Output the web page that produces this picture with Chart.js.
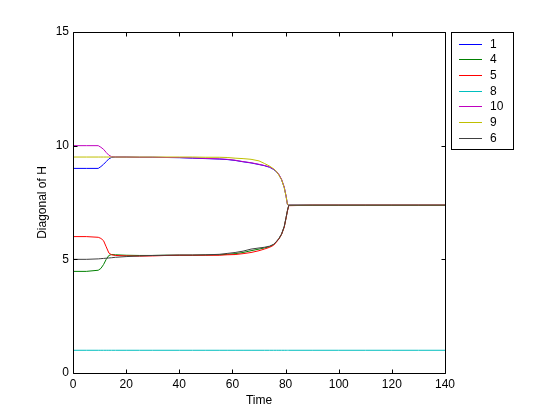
<!DOCTYPE html>
<html>
<head>
<meta charset="utf-8">
<script src="https://cdn.jsdelivr.net/npm/chart.js@4"></script>
<style>
html,body{margin:0;padding:0;background:#fff;}
#wrap{width:560px;height:420px;}
</style>
</head>
<body>
<div id="wrap"><canvas id="c" width="560" height="420"></canvas></div>
<script>
// ---- data ----
const seriesLabels = ['1', '4', '5', '8', '10', '9', '6'];
const time = [0, 5, 9.5, 10.5, 11.5, 12.5, 13.5, 14.5, 16, 20,
  25, 30, 35, 40, 45, 50, 55, 58, 61, 64,
  67, 70, 72, 74, 75.5, 76.5, 77.5, 78.5, 79.5, 80.2,
  80.7, 81.2, 90, 100, 110, 120, 130, 140];
const h1 = [9, 9, 9.0, 9.08, 9.18, 9.3, 9.42, 9.48, 9.5, 9.5,
  9.49, 9.49, 9.48, 9.47, 9.45, 9.43, 9.41, 9.39, 9.35, 9.29,
  9.24, 9.17, 9.12, 9.05, 8.95, 8.86, 8.72, 8.5, 8.16, 7.77,
  7.41, 7.38, 7.38, 7.38, 7.38, 7.38, 7.38, 7.38];
const h4 = [4.47, 4.47, 4.52, 4.6, 4.77, 5.0, 5.17, 5.21, 5.2, 5.18,
  5.17, 5.17, 5.18, 5.18, 5.18, 5.19, 5.2, 5.22, 5.25, 5.3,
  5.38, 5.45, 5.5, 5.56, 5.65, 5.77, 5.9, 6.1, 6.43, 6.83,
  7.14, 7.37, 7.38, 7.38, 7.38, 7.38, 7.38, 7.38];
const h5 = [6.0, 6.0, 5.97, 5.92, 5.82, 5.55, 5.28, 5.2, 5.17, 5.15,
  5.14, 5.15, 5.17, 5.18, 5.18, 5.18, 5.18, 5.2, 5.21, 5.25,
  5.3, 5.38, 5.45, 5.53, 5.62, 5.75, 5.9, 6.1, 6.42, 6.82,
  7.12, 7.36, 7.38, 7.38, 7.38, 7.38, 7.38, 7.38];
const h8 = [1, 1, 1, 1, 1, 1, 1, 1, 1, 1,
  1, 1, 1, 1, 1, 1, 1, 1, 1, 1,
  1, 1, 1, 1, 1, 1, 1, 1, 1, 1,
  1, 1, 1, 1, 1, 1, 1, 1];
const h10 = [10, 10, 10, 9.93, 9.84, 9.7, 9.58, 9.52, 9.5, 9.5,
  9.49, 9.49, 9.48, 9.48, 9.46, 9.44, 9.42, 9.4, 9.36, 9.3,
  9.25, 9.18, 9.13, 9.06, 8.97, 8.88, 8.73, 8.52, 8.18, 7.78,
  7.42, 7.38, 7.38, 7.38, 7.38, 7.38, 7.38, 7.38];
const h9 = [9.5, 9.5, 9.5, 9.5, 9.5, 9.5, 9.5, 9.5, 9.5, 9.5,
  9.5, 9.5, 9.5, 9.5, 9.5, 9.49, 9.49, 9.48, 9.45, 9.43,
  9.4, 9.33, 9.22, 9.1, 8.98, 8.87, 8.7, 8.5, 8.15, 7.76,
  7.42, 7.38, 7.38, 7.38, 7.38, 7.38, 7.38, 7.38];
const h6 = [5.0, 5.0, 5.02, 5.03, 5.04, 5.05, 5.06, 5.07, 5.09, 5.12,
  5.15, 5.17, 5.18, 5.19, 5.19, 5.2, 5.22, 5.26, 5.3, 5.36,
  5.45, 5.5, 5.53, 5.58, 5.66, 5.78, 5.92, 6.12, 6.45, 6.85,
  7.15, 7.38, 7.38, 7.38, 7.38, 7.38, 7.38, 7.38];
const seriesValues = [h1, h4, h5, h8, h10, h9, h6];
const xTicks = [0, 20, 40, 60, 80, 100, 120, 140];
const yTicks = [0, 5, 10, 15];

// ---- styles ----
const seriesColors = ['#0000ff', '#008000', '#ff0000', '#00bfbf', '#bf00bf', '#bfbf00', '#404040'];
const FONT = "'Liberation Sans', Arial, sans-serif";

const datasets = seriesLabels.map((lab, i) => ({
  label: lab,
  data: time.map((t, k) => ({x: t, y: seriesValues[i][k]})),
  borderColor: seriesColors[i],
  backgroundColor: seriesColors[i],
  borderWidth: 1,
  pointRadius: 0,
  tension: 0,
  fill: false,
  order: seriesLabels.length - 1 - i
}));

const matlabAxes = {
  id: 'matlabAxes',
  afterDatasetsDraw(chart) {
    const {ctx, chartArea: a, scales} = chart;
    ctx.save();
    ctx.strokeStyle = '#000';
    ctx.lineWidth = 1;
    ctx.beginPath();
    const L = Math.round(a.left) + 0.5, R = Math.round(a.right) + 0.5;
    const T = Math.round(a.top) + 0.5, B = Math.round(a.bottom) + 0.5;
    ctx.rect(L, T, R - L, B - T);
    const tl = 4;
    xTicks.forEach(v => {
      const px = Math.round(scales.x.getPixelForValue(v)) + 0.5;
      ctx.moveTo(px, B); ctx.lineTo(px, B - tl);
      ctx.moveTo(px, T); ctx.lineTo(px, T + tl);
    });
    yTicks.forEach(v => {
      const py = Math.round(scales.y.getPixelForValue(v)) + 0.5;
      ctx.moveTo(L, py); ctx.lineTo(L + tl, py);
      ctx.moveTo(R, py); ctx.lineTo(R - tl, py);
    });
    ctx.stroke();

    // legend box (MATLAB style), to the right of the axes
    const bx = R + 6, by = T, bw = 62, rowH = 15.7;
    const bh = Math.round(rowH * seriesLabels.length + 7);
    ctx.fillStyle = '#fff';
    ctx.fillRect(bx, by, bw, bh);
    ctx.strokeStyle = '#000';
    ctx.lineWidth = 1;
    ctx.strokeRect(bx, by, bw, bh);
    ctx.font = '12px ' + FONT;
    ctx.textBaseline = 'middle';
    ctx.textAlign = 'left';
    const x0 = Math.round(bx + 7);
    seriesLabels.forEach((lab, i) => {
      const cy = Math.round(by + 11 + i * rowH);
      ctx.fillStyle = seriesColors[i];
      ctx.fillRect(x0, cy, 23, 1);
      ctx.fillStyle = '#000';
      ctx.fillText(lab, x0 + 31, cy + 1);
    });
    ctx.restore();
  }
};

new Chart(document.getElementById('c'), {
  type: 'line',
  data: {datasets},
  options: {
    responsive: false,
    animation: false,
    layout: {padding: {top: 32, right: 115, left: 0, bottom: 0}},
    plugins: {legend: {display: false}, tooltip: {enabled: false}},
    scales: {
      x: {
        type: 'linear', min: 0, max: 140,
        afterFit(s) { s.height = 47; },
        afterBuildTicks(s) { s.ticks = xTicks.map(v => ({value: v})); },
        grid: {display: false, drawTicks: false},
        border: {display: false},
        ticks: {color: '#000', padding: 4, maxRotation: 0, font: {family: FONT, size: 12}},
        title: {display: true, text: 'Time', color: '#000', font: {family: FONT, size: 12}, padding: {top: 0, bottom: 12}}
      },
      y: {
        type: 'linear', min: 0, max: 15,
        afterFit(s) { s.width = 73; },
        afterBuildTicks(s) { s.ticks = yTicks.map(v => ({value: v})); },
        grid: {display: false, drawTicks: false},
        border: {display: false},
        ticks: {color: '#000', padding: 4, font: {family: FONT, size: 12}},
        title: {display: true, text: 'Diagonal of H', color: '#000', font: {family: FONT, size: 12}, padding: {top: 35, bottom: 0}}
      }
    }
  },
  plugins: [matlabAxes]
});
</script>
</body>
</html>
